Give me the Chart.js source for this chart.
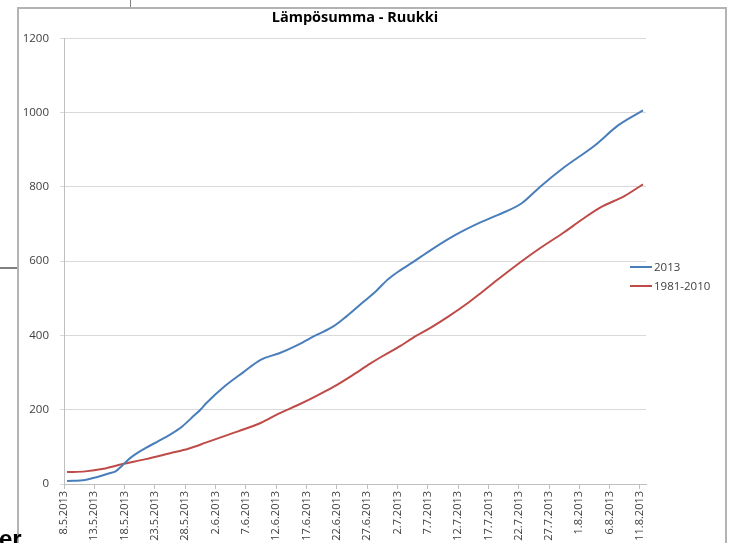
<!DOCTYPE html>
<html>
<head>
<meta charset="utf-8">
<script src="https://cdn.jsdelivr.net/npm/chart.js@4/dist/chart.umd.min.js"></script>
<style>
  html, body { margin: 0; padding: 0; background: #fff; overflow: hidden; }
  body { width: 731px; height: 543px; position: relative; }
  #frame { position: absolute; left: 17px; top: 7px; width: 710px; height: 560px;
           border: 2px solid #b3b3b3; box-sizing: border-box; }
  #wrap { position: absolute; left: 0; top: 0; width: 731px; height: 543px; }
  .stub { position: absolute; background: #808080; }
  #cut { position: absolute; left: -1px; top: 527px; font: bold 24px "Liberation Sans", Arial, sans-serif;
         color: #000; line-height: 1; }
</style>
</head>
<body>
<div class="stub" style="left:130px; top:0; width:1px; height:8px;"></div>
<div class="stub" style="left:0; top:267px; width:18px; height:2px;"></div>
<div id="frame"></div>
<div id="wrap"><canvas id="c" width="731" height="543"></canvas></div>
<div id="cut">er</div>
<script>
// x-axis labels, one every 5 days starting 8.5.2013
const tickLabels = ['8.5.2013', '13.5.2013', '18.5.2013', '23.5.2013', '28.5.2013', '2.6.2013',
  '7.6.2013', '12.6.2013', '17.6.2013', '22.6.2013', '27.6.2013', '2.7.2013', '7.7.2013',
  '12.7.2013', '17.7.2013', '22.7.2013', '27.7.2013', '1.8.2013', '6.8.2013', '11.8.2013'];

// 2013 heat sum (day index from 8.5.)
const days2013 = [0, 3, 5, 7, 8, 9, 10, 11, 13, 15, 17, 19, 21, 22, 23, 26, 29, 32, 35, 38, 41,
  44, 46, 49, 51, 53, 55, 57, 60, 64, 68, 71, 75, 78, 82, 87, 91, 95];
const values2013 = [8, 11, 19, 29, 34, 48, 64, 77, 97, 115, 133, 155, 185, 200, 218, 263, 300, 335,
  352, 374, 400, 425, 450, 492, 520, 552, 576, 597, 630, 670, 703, 724, 756, 800, 853, 911, 967, 1006];

// 1981-2010 average
const daysAvg = [0, 3, 6, 9, 13, 17, 20, 23, 27, 30, 32, 35, 38, 41, 44, 47, 50, 52, 55, 57, 60,
  63, 66, 68, 71, 75, 78, 82, 85, 88, 92, 95];
const valuesAvg = [32, 34, 41, 53, 67, 83, 95, 112, 135, 152, 165, 190, 212, 236, 262, 292, 324,
  344, 372, 393, 421, 452, 486, 511, 550, 600, 635, 678, 713, 745, 776, 807];

const yTicks = [0, 200, 400, 600, 800, 1000, 1200];

const FONT = '"Open Sans", Lato, sans-serif';

// points sit in the middle of each day slot
const toPoints = (d, v) => d.map((x, i) => ({ x: x + 0.5, y: v[i] }));

// legend drawn next to the plot, like the Excel one
const sideLegend = {
    id: 'sideLegend',
    afterDraw(chart) {
        const ctx = chart.ctx;
        ctx.save();
        ctx.font = '11.5px ' + FONT;
        ctx.fillStyle = '#404040';
        ctx.textBaseline = 'middle';
        chart.data.datasets.forEach((ds, i) => {
            const y = 267 + i * 19;
            ctx.strokeStyle = ds.borderColor;
            ctx.lineWidth = 2;
            ctx.beginPath();
            ctx.moveTo(630, y);
            ctx.lineTo(652, y);
            ctx.stroke();
            ctx.fillText(ds.label, 654, y + 1);
        });
        ctx.restore();
    }
};

new Chart(document.getElementById('c'), {
    type: 'line',
    data: {
        datasets: [{
            label: '2013',
            data: toPoints(days2013, values2013),
            borderColor: '#4a7ebb',
            backgroundColor: '#4a7ebb',
            borderWidth: 2,
            pointRadius: 0,
            cubicInterpolationMode: 'monotone'
        }, {
            label: '1981-2010',
            data: toPoints(daysAvg, valuesAvg),
            borderColor: '#be4b48',
            backgroundColor: '#be4b48',
            borderWidth: 2,
            pointRadius: 0,
            cubicInterpolationMode: 'monotone'
        }]
    },
    options: {
        responsive: false,
        animation: false,
        layout: { padding: { left: 0, right: 21, top: 0, bottom: 0 } },
        plugins: {
            legend: { display: false },
            tooltip: { enabled: false },
            title: {
                display: true,
                text: 'Lämpösumma - Ruukki',
                color: '#000',
                font: { family: FONT, size: 14.5, weight: 'bold' },
                padding: { top: 9, bottom: 12 }
            }
        },
        scales: {
            x: {
                type: 'linear',
                min: 0,
                max: 96,
                grid: { drawOnChartArea: false, tickLength: 5, color: '#bfbfbf' },
                border: { color: '#bfbfbf' },
                ticks: {
                    stepSize: 5,
                    includeBounds: false,
                    autoSkip: false,
                    minRotation: 90,
                    maxRotation: 90,
                    padding: 2,
                    color: '#404040',
                    font: { family: FONT, size: 11 },
                    callback: (v) => tickLabels[v / 5] ?? ''
                },
                afterFit: (s) => { s.height = 59; }
            },
            y: {
                min: 0,
                max: 1200,
                afterBuildTicks: (s) => { s.ticks = yTicks.map(v => ({ value: v })); },
                grid: { color: '#d9d9d9', tickLength: 4 },
                border: { color: '#bfbfbf' },
                ticks: {
                    padding: 11,
                    color: '#404040',
                    font: { family: FONT, size: 11.5 },
                    callback: (v) => String(v)
                },
                afterFit: (s) => { s.width = 64; }
            },
            spacer: {
                position: 'right',
                grid: { display: false },
                border: { display: false },
                ticks: { display: false },
                afterFit: (s) => { s.width = 64; }
            }
        }
    },
    plugins: [sideLegend]
});
</script>
</body>
</html>
